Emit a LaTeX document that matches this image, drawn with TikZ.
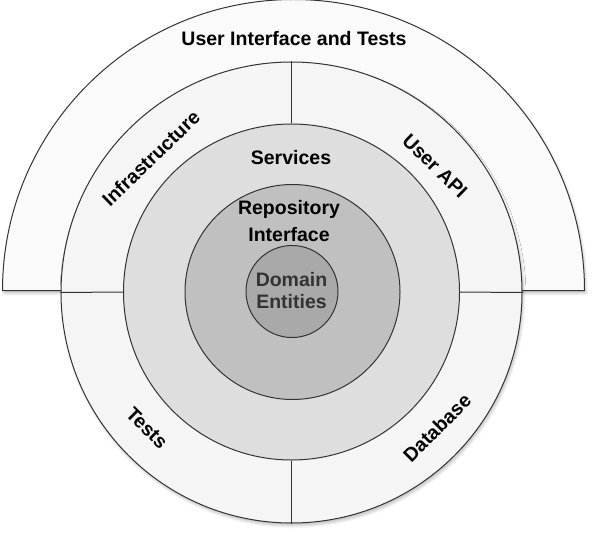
\documentclass[tikz,border=0pt]{standalone}
\usepackage{fontspec}
\setmainfont{Liberation Sans}
\usetikzlibrary{shadows.blur}
\definecolor{cOuter}{HTML}{FAFAFA}
\definecolor{cRing}{HTML}{F5F5F5}
\definecolor{cSvc}{HTML}{DEDEDE}
\definecolor{cRepo}{HTML}{C0C0C0}
\definecolor{cDom}{HTML}{A9A9A9}
\definecolor{cLine}{HTML}{333333}
\begin{document}
\begin{tikzpicture}[x=1bp,y=1bp,
  edge/.style={draw=cLine, line width=1bp},
  shad/.style={blur shadow={shadow xshift=1.5bp, shadow yshift=-3bp, shadow opacity=22, shadow blur radius=2.5bp}},
  disc/.style={circle, inner sep=0pt, draw=cLine, line width=1bp},
  lbl/.style={font=\fontsize{19.5bp}{22bp}\selectfont\bfseries, text=black, inner sep=0pt, align=center}]
\useasboundingbox (0,0) rectangle (597,-536);
% outer half circle
\path[shad, fill=cOuter, draw=cLine, line width=1bp] (2.5,-290.5) arc (180:0:291) -- cycle;
% rings
\node[disc, shad, fill=cRing, minimum size=461bp] (ring) at (291.5,-292.5) {};
\node[disc, fill=cSvc, minimum size=336bp] (svc) at (291.5,-292) {};
\node[disc, fill=cRepo, minimum size=215bp] (repo) at (292.5,-292) {};
\node[disc, fill=cDom, minimum size=92bp] (dom) at (292,-291.5) {};
% dividers
\path[edge] (ring.north) -- (svc.north);
\path[edge] (ring.south) -- (svc.south);
\path[edge] (ring.west) -- (svc.west);
\path[edge] (ring.east) -- (svc.east);
% labels
\node[lbl] (tUI) at (294,-39) {User Interface and Tests};
\node[lbl] (tSvc) at (291,-158) {Services};
\node[lbl, font=\fontsize{19.5bp}{27bp}\selectfont\bfseries] (tRepo) at (289,-221) {Repository\\Interface};
\node[lbl, text=cLine] (tDom) at (291.5,-291) {Domain\\Entities};
\node[lbl, rotate=44] (tInf) at (151,-158) {Infrastructure};
\node[lbl, rotate=-44] (tApi) at (435,-166) {User API};
\node[lbl, rotate=-45] (tTests) at (147,-428) {Tests};
\node[lbl, rotate=45] (tDb) at (437,-428) {Database};
\end{tikzpicture}
\end{document}
